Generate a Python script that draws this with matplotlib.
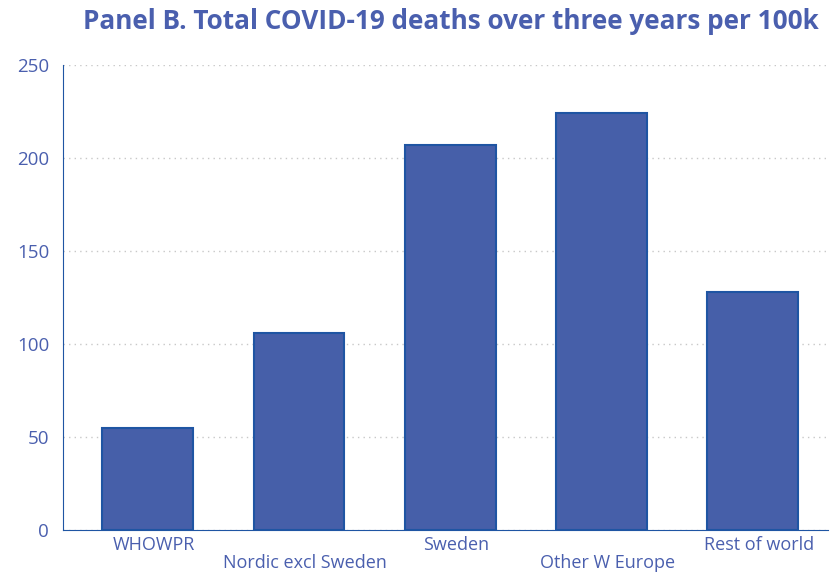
import matplotlib.pyplot as plt
from matplotlib.transforms import ScaledTranslation

# data
categories = ['WHOWPR', 'Nordic excl Sweden', 'Sweden', 'Other W Europe', 'Rest of world']
deaths_per_100k = [55, 106, 207, 224, 128]
y_ticks = [0, 50, 100, 150, 200, 250]

text_col = '#4a5fae'
bar_col = '#465fa9'
edge_col = '#1f55a3'

plt.rcParams['font.family'] = ['Open Sans', 'DejaVu Sans']

fig = plt.figure(figsize=(8.3, 5.73), dpi=100)
ax = fig.add_axes([0.076, 0.075, 0.922, 0.812])

x = list(range(len(categories)))
ax.bar(x, deaths_per_100k, width=0.6, color=bar_col, edgecolor=edge_col, linewidth=1.5, zorder=3)

ax.set_ylim(0, 250)
ax.set_xlim(-0.56, 4.5)
ax.set_yticks(y_ticks)
ax.yaxis.grid(True, linestyle=(0, (1, 3)), color='#c8c8c8', linewidth=1, zorder=0)

# alternate labels up / down like the original
labels = [c if i % 2 == 0 else '\n' + c for i, c in enumerate(categories)]
ax.set_xticks(x)
ax.set_xticklabels(labels, color=text_col, fontsize=13, linespacing=1.05)
ax.tick_params(axis='both', length=0)
ax.tick_params(axis='y', labelcolor=text_col, labelsize=13.5, pad=10)
ax.tick_params(axis='x', pad=4)
# labels sit a little right of the bar centres in the original
shift = ScaledTranslation(6 / 100, 0, fig.dpi_scale_trans)
for lab in ax.get_xticklabels():
    lab.set_transform(lab.get_transform() + shift)

for s in ['top', 'right']:
    ax.spines[s].set_visible(False)
ax.spines['left'].set_color(edge_col)
ax.spines['bottom'].set_color(edge_col)

fig.text(0.986, 0.962, 'Panel B. Total COVID-19 deaths over three years per 100k',
         ha='right', va='center', color=text_col, fontsize=18.8, fontweight='bold')

fig.savefig('out.png', dpi=100)
